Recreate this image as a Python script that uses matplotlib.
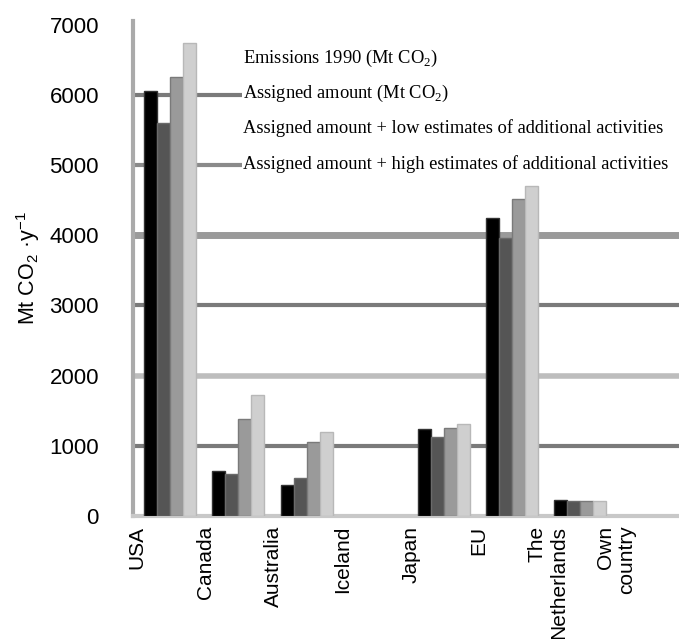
import matplotlib
matplotlib.use("Agg")
import matplotlib.pyplot as plt
from matplotlib.patches import Rectangle
import numpy as np

categories = ["USA", "Canada", "Australia", "Iceland", "Japan", "EU",
              "The\nNetherlands", "Own\ncountry"]
emissions_1990 = [6050, 640, 440, 0, 1240, 4240, 230, 0]
assigned = [5600, 600, 540, 0, 1130, 3960, 220, 0]
assigned_low = [6250, 1380, 1050, 0, 1250, 4510, 215, 0]
assigned_high = [6730, 1720, 1200, 0, 1310, 4700, 215, 0]
series_labels = [
    r"Emissions 1990 (Mt CO$_\mathregular{2}$)",
    r"Assigned amount (Mt CO$_\mathregular{2}$)",
    "Assigned amount + low estimates of additional activities",
    "Assigned amount + high estimates of additional activities",
]
yticks = [0, 1000, 2000, 3000, 4000, 5000, 6000, 7000]

colors = ["#000000", "#555555", "#9a9a9a", "#cfcfcf"]
edges = ["#333333", "#6a6a6a", "#7a7a7a", "#b8b8b8"]

fig = plt.figure(figsize=(6.79, 6.39), dpi=100)
ax = fig.add_axes([133 / 679, (639 - 516) / 639, 1 - 133 / 679, 495 / 639])

x = np.arange(len(categories))
bw = 0.19
series = [emissions_1990, assigned, assigned_low, assigned_high]
for k, vals in enumerate(series):
    lws = [1.0 if v > 0 else 0.0 for v in vals]
    ax.bar(x + 0.1 + k * bw, vals, width=bw, align="edge", color=colors[k],
           edgecolor=edges[k], linewidth=lws, zorder=3)

ax.set_xlim(-0.06, 7.92)
ax.set_ylim(0, 7050)

# gridlines
grid_style = {1000: ("#7a7a7a", 3), 2000: ("#bdbdbd", 4), 3000: ("#7a7a7a", 3),
              4000: ("#9a9a9a", 5), 5000: ("#8a8a8a", 3), 6000: ("#7a7a7a", 3)}
for yv, (c, lw) in grid_style.items():
    ax.axhline(yv, color=c, linewidth=lw, zorder=1)

# legend area (white box with text entries)
ax.add_patch(Rectangle((1.53, 4830), 7.0, 2000, facecolor="white",
                       edgecolor="none", zorder=4))
legend_y = [6510, 6020, 5520, 5010]
for lab, yv in zip(series_labels, legend_y):
    ax.text(1.55, yv, lab, family="Liberation Serif", fontsize=13.3,
            va="center", ha="left", zorder=5)

ax.set_yticks(yticks)
ax.set_yticklabels([str(v) for v in yticks], family="Liberation Sans",
                   fontsize=16)
ax.tick_params(axis="y", length=0, pad=24.5)
ax.set_xticks(x)
ax.set_xticklabels(categories, rotation=90, family="Liberation Sans",
                   fontsize=15, va="top", ha="center", ma="right")
ax.tick_params(axis="x", length=0, pad=7)

for s in ["top", "right"]:
    ax.spines[s].set_visible(False)
ax.spines["left"].set_color("#aaaaaa")
ax.spines["left"].set_linewidth(3)
ax.spines["bottom"].set_color("#c8c8c8")
ax.spines["bottom"].set_linewidth(3)

ax.set_ylabel(r"Mt CO$_\mathregular{2}$ ·y$^\mathregular{-1}$",
              family="Liberation Sans", fontsize=15.5, labelpad=5)

fig.savefig("out.png", dpi=100)
